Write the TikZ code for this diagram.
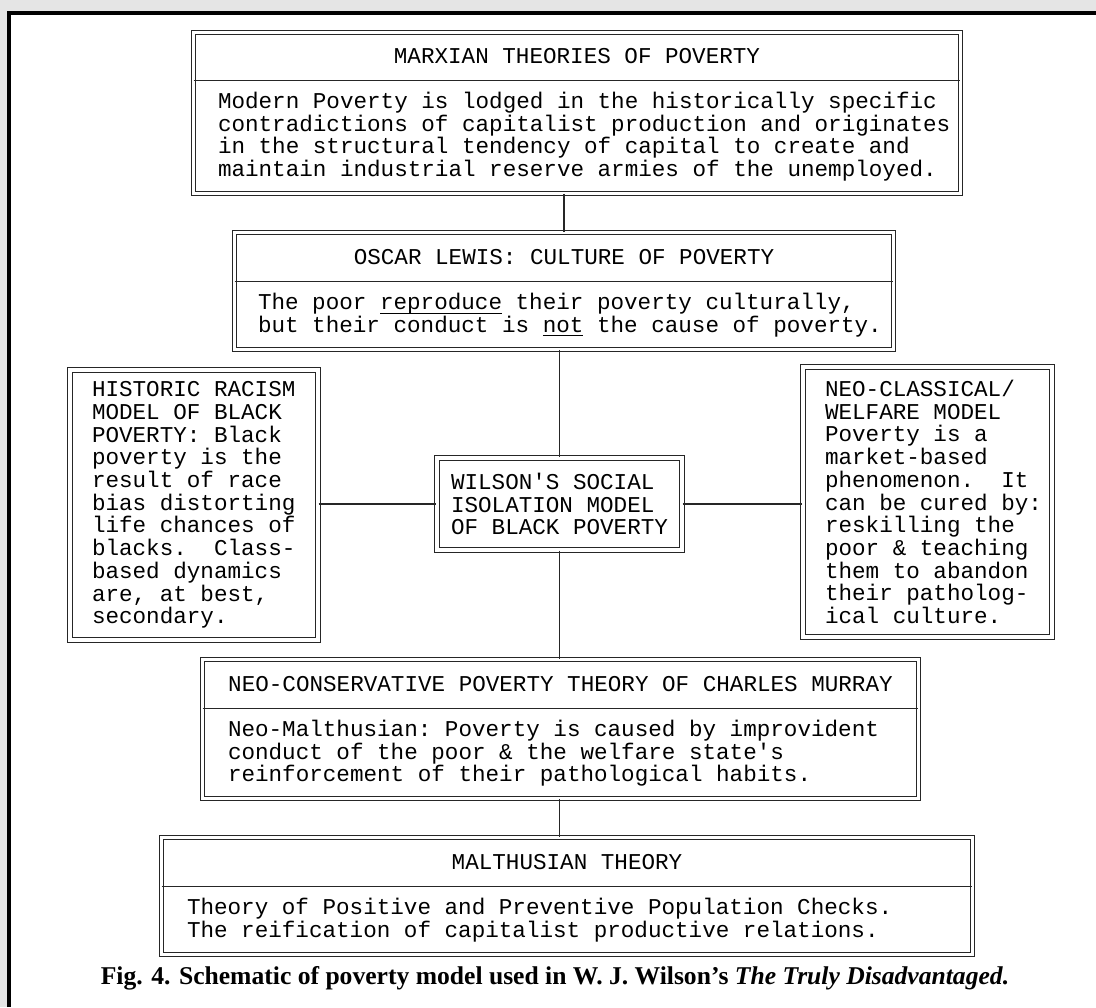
\documentclass[tikz,border=0pt]{standalone}
\usepackage{fontspec}
\setmainfont{Liberation Serif}
\setmonofont[WordSpace={1,0,0}, PunctuationSpace=WordSpace]{Liberation Mono}
\usetikzlibrary{positioning, fit}
\newcommand{\boxfont}{\ttfamily\fontsize{11.3pt}{11.35pt}\selectfont\spaceskip=0.6em\xspaceskip=0.6em\relax}
\newcommand{\stress}[1]{\setbox0\hbox{#1}\rlap{\rule[-1.9pt]{\wd0}{0.5pt}}#1}
\tikzstyle{outline} = [draw=black!85, line width=0.55pt, double, double distance=1.6pt, inner sep=0pt]
\tikzstyle{heading} = [align=center, minimum height=24pt, inner sep=0pt, font=\boxfont]
\tikzstyle{content} = [align=flush left, inner sep=0pt, font=\boxfont]
\tikzstyle{connector} = [draw=black!85, line width=0.55pt]

\begin{document}
\begin{tikzpicture}[x=0.5pt, y=-0.5pt]
    \useasboundingbox (0,0) rectangle (1096,1007);
    % Page
    \fill[gray!20] (0,0) rectangle (1096,1007);
    \fill[white] (9,13) rectangle (1096,1007);
    \draw[line width=2pt] (9,1007) -- (9,13) -- (1096,13);

    % Nodes
    \node [heading, minimum width=383pt, minimum height=23.5pt] (marxHead) at (577,56.5) {MARXIAN THEORIES OF POVERTY};
    \node [content, text width=371pt, minimum height=56pt, below=0pt of marxHead.south west, anchor=north west, xshift=12pt] (marxBody) {Modern Poverty is lodged in the historically specific\\ contradictions of capitalist production and originates\\ in the structural tendency of capital to create and\\ maintain industrial reserve armies of the unemployed.};
    \node [outline, fit=(marxHead)(marxBody)] (marx) {};

    \node [heading, minimum width=329pt] (lewisHead) at (564,257) {OSCAR LEWIS: CULTURE OF POVERTY};
    \node [content, text width=317pt, minimum height=33.5pt, below=0pt of lewisHead.south west, anchor=north west, xshift=11.5pt] (lewisBody) {The poor \stress{reproduce} their poverty culturally,\\ but their conduct is \stress{not} the cause of poverty.};
    \node [outline, fit=(lewisHead)(lewisBody)] (lewis) {};

    \node [content, outline, inner xsep=11pt, text width=102pt, minimum height=135pt] (racism) at (194,505) {HISTORIC RACISM\\ MODEL OF BLACK\\ POVERTY: Black\\ poverty is the\\ result of race\\ bias distorting\\ life chances of\\ blacks.\ \ Class-\\ based dynamics\\ are, at best,\\ secondary.};
    \node [content, outline, minimum width=122.5pt, minimum height=46pt, align=left] (wilson) at (559.5,504) {WILSON'S SOCIAL\\ ISOLATION MODEL\\ OF BLACK POVERTY};
    \node [content, outline, inner xsep=11pt, text width=102.5pt, minimum height=135pt] (welfare) at (927.5,502) {NEO-CLASSICAL/\\ WELFARE MODEL\\ Poverty is a\\ market-based\\ phenomenon.\ \ It\\ \mbox{can be cured by:}\\ reskilling the\\ poor \& teaching\\ them to abandon\\ their patholog-\\ ical culture.};

    \node [heading, minimum width=357.5pt] (murrayHead) at (560.5,684) {NEO-CONSERVATIVE POVERTY THEORY OF CHARLES MURRAY};
    \node [content, text width=345pt, minimum height=44.5pt, below=0pt of murrayHead.south west, anchor=north west, xshift=12.5pt] (murrayBody) {Neo-Malthusian: Poverty is caused by improvident\\ conduct of the poor \& the welfare state's\\ reinforcement of their pathological habits.};
    \node [outline, fit=(murrayHead)(murrayBody)] (murray) {};

    \node [heading, minimum width=405pt] (malthusHead) at (567,862) {MALTHUSIAN THEORY};
    \node [content, text width=392.5pt, minimum height=33.5pt, below=0pt of malthusHead.south west, anchor=north west, xshift=12.5pt] (malthusBody) {Theory of Positive and Preventive Population Checks.\\ The reification of capitalist productive relations.};
    \node [outline, fit=(malthusHead)(malthusBody)] (malthus) {};

    \node [font=\fontsize{12.8pt}{14pt}\selectfont\bfseries] (caption) at (555,978) {Fig. 4. Schematic of poverty model used in W. J. Wilson's \textit{The Truly Disadvantaged.}};

    % Dividers
    \path [connector] (marxHead.south west) -- (marxHead.south east);
    \path [connector] (lewisHead.south west) -- (lewisHead.south east);
    \path [connector] (murrayHead.south west) -- (murrayHead.south east);
    \path [connector] (malthusHead.south west) -- (malthusHead.south east);

    % Connectors
    \path [connector] (marx.south -| lewis) -- (lewis.north);
    \path [connector] (lewis.south -| wilson) -- (wilson.north);
    \path [connector] (racism.east |- wilson) -- (wilson.west);
    \path [connector] (wilson.east) -- (wilson -| welfare.west);
    \path [connector] (wilson.south) -- (murray.north -| wilson);
    \path [connector] (murray.south -| wilson) -- (malthus.north -| wilson);
\end{tikzpicture}
\end{document}
